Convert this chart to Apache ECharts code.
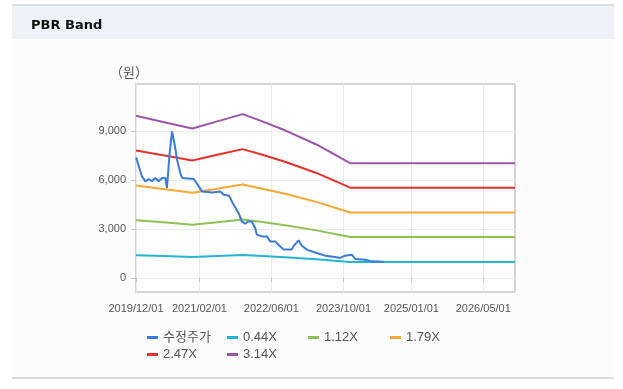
<!DOCTYPE html>
<html>
<head>
<meta charset="utf-8">
<script src="https://cdn.jsdelivr.net/npm/echarts@6/dist/echarts.min.js"></script>
<style>
html,body{margin:0;padding:0;background:#fff;}
#chart{width:623px;height:389px;}
</style>
</head>
<body>
<div id="chart"></div>
<script>
// ---- data ----
const seriesNames = ['수정주가', '0.44X', '1.12X', '1.79X', '2.47X', '3.14X'];
const seriesColors = ['#3b7bd6', '#22b5d6', '#8dc255', '#f7a735', '#e5312b', '#9a55a8'];

const priceDates = ['2019-12-02','2020-01-10','2020-02-03','2020-02-26','2020-03-18','2020-04-09','2020-05-02','2020-05-25','2020-06-16','2020-06-27','2020-07-13','2020-07-31','2020-08-12','2020-08-18','2020-09-03','2020-09-25','2020-10-07','2020-12-25','2021-01-27','2021-02-19','2021-04-27','2021-06-22','2021-07-15','2021-08-20','2021-09-13','2021-10-23','2021-11-14','2021-12-06','2021-12-28','2022-01-20','2022-02-12','2022-02-23','2022-03-29','2022-05-02','2022-05-24','2022-06-27','2022-07-19','2022-08-22','2022-10-17','2022-10-28','2022-12-01','2022-12-24','2023-01-27','2023-03-01','2023-04-04','2023-05-30','2023-08-06','2023-09-08','2023-10-12','2023-11-26','2023-12-19','2024-02-24','2024-04-10','2024-06-27'];
const priceValues = [7400,6230,5930,6070,5930,6135,5930,6135,6135,5520,7460,8990,8900,8180,7260,6440,6135,6070,5620,5310,5250,5310,5110,5050,4600,3990,3470,3330,3470,3470,3070,2660,2550,2550,2245,2245,2040,1740,1740,1940,2310,1980,1740,1630,1530,1370,1290,1230,1370,1430,1165,1120,1020,990];

const bandDates = ['2019-12-01','2020-06-01','2020-12-15','2021-06-01','2021-11-20','2022-04-01','2022-09-01','2023-04-01','2023-11-15','2026-12-01'];
const band044 = [1394,1341,1285,1346,1408,1347,1270,1148,986,986];
const band112 = [3549,3414,3271,3426,3585,3428,3232,2921,2511,2511];
const band179 = [5672,5456,5228,5476,5729,5478,5165,4669,4013,4013];
const band247 = [7827,7528,7213,7556,7906,7559,7127,6443,5538,5538];
const band314 = [9950,9570,9170,9606,10050,9610,9060,8190,7040,7040];

const xTickDates = ['2019-12-01','2021-02-01','2022-06-01','2023-10-01','2025-01-01','2026-05-01'];
const yTickValues = [0, 3000, 6000, 9000];
const unitLabel = '（원）';
const titleText = 'PBR Band';

// ---- build ----
function ts(s){ const p = s.split('-').map(Number); return Date.UTC(p[0], p[1]-1, p[2]); }
function fmtDate(v){
  const d = new Date(v);
  const mm = String(d.getUTCMonth()+1).padStart(2,'0');
  const dd = String(d.getUTCDate()).padStart(2,'0');
  return d.getUTCFullYear() + '/' + mm + '/' + dd;
}
function pairs(dates, vals){ return dates.map((d,i)=>[ts(d), vals[i]]); }

const seriesData = [
  pairs(priceDates, priceValues),
  pairs(bandDates, band044),
  pairs(bandDates, band112),
  pairs(bandDates, band179),
  pairs(bandDates, band247),
  pairs(bandDates, band314)
];

const legendPos = [
  {left:147, top:331}, {left:227, top:331}, {left:308, top:331}, {left:390, top:331},
  {left:147, top:348}, {left:227, top:348}
];

const chart = echarts.init(document.getElementById('chart'), null, {renderer:'canvas'});
const font = 'Liberation Sans, Arial, sans-serif';

const option = {
  animation: false,
  backgroundColor: '#ffffff',
  title: {
    text: titleText, left: 26, top: 14,
    textStyle: {fontFamily: 'DejaVu Sans, sans-serif', fontWeight: 'bold', fontSize: 13, color: '#111'}
  },
  graphic: [
    {type:'rect', z:-10, silent:true, shape:{x:12, y:5, width:602, height:373}, style:{fill:'#fcfcfc'}},
    {type:'rect', z:-9, silent:true, shape:{x:12, y:5, width:602, height:34}, style:{fill:'#eef2f7'}},
    {type:'line', z:-8, silent:true, shape:{x1:12, y1:5, x2:614, y2:5}, style:{stroke:'#d4d4d4', lineWidth:1.5}},
    {type:'line', z:-8, silent:true, shape:{x1:12, y1:378, x2:614, y2:378}, style:{stroke:'#cfcfcf', lineWidth:1.5}},
    {type:'rect', z:-7, silent:true, shape:{x:136, y:84, width:379, height:208}, style:{fill:'#ffffff'}}
  ],
  legend: seriesNames.map((n,i)=>({
    data:[n], left: legendPos[i].left, top: legendPos[i].top, padding:0,
    icon:'rect', itemWidth: 11, itemHeight: 3, itemGap: 0,
    textStyle:{fontFamily: 'Liberation Sans, Noto Sans CJK KR, sans-serif', fontSize: 13, color:'#555'}
  })),
  grid: {
    left: 136, right: 108, top: 84, bottom: 97,
    show: true, borderColor: '#c6c6c6', borderWidth: 1.5, backgroundColor: 'transparent'
  },
  xAxis: {
    type: 'value',
    min: ts('2019-12-01'), max: ts('2026-12-01'),
    axisLine: {show: false},
    axisTick: {show: true, length: 4, lineStyle: {color:'#c6c6c6'}, customValues: xTickDates.map(ts)},
    axisLabel: {
      customValues: xTickDates.map(ts), margin: 11,
      fontFamily: font, fontSize: 11, color: '#555',
      formatter: v => fmtDate(v)
    },
    splitLine: {show: true, lineStyle: {color: '#ebebeb', width: 1}}
  },
  yAxis: {
    type: 'value',
    min: -860, max: 11900,
    name: unitLabel, nameLocation: 'end', nameGap: 5,
    nameTextStyle: {fontFamily: 'Noto Sans CJK KR, sans-serif', fontSize: 13, color: '#555', align: 'center', padding: [0, 14, 0, 0]},
    axisLine: {show: false},
    axisTick: {show: true, length: 5, lineStyle: {color:'#c6c6c6'}, customValues: yTickValues},
    axisLabel: {
      customValues: yTickValues, margin: 10,
      fontFamily: font, fontSize: 11, color: '#555',
      formatter: v => echarts.format.addCommas(v)
    },
    splitLine: {show: true, lineStyle: {color: '#ebebeb', width: 1}}
  },
  series: seriesNames.map((n,i)=>({
    name: n, type: 'line', data: seriesData[i],
    showSymbol: false, symbol: 'none',
    lineStyle: {color: seriesColors[i], width: 2},
    itemStyle: {color: seriesColors[i]},
    z: i === 0 ? 3 : 2
  }))
};
chart.setOption(option);
</script>
</body>
</html>
